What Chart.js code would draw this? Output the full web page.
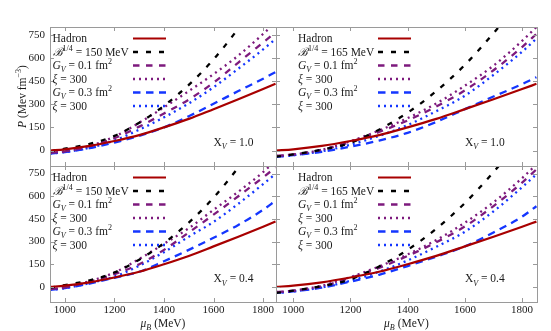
<!DOCTYPE html>
<html><head><meta charset="utf-8">
<script src="https://cdn.jsdelivr.net/npm/chart.js@4.4.1/dist/chart.umd.min.js"></script>
<style>
html,body{margin:0;padding:0;background:#fff;}
#wrap{position:relative;width:551px;height:331px;overflow:hidden;}
canvas{position:absolute;left:0;top:0;}
</style></head><body>
<div id="wrap">
<canvas id="c0" width="551" height="331"></canvas>
<canvas id="c1" width="551" height="331"></canvas>
<canvas id="c2" width="551" height="331"></canvas>
<canvas id="c3" width="551" height="331"></canvas>
</div>
<script>
// ---------------- data ----------------
const MU = [940, 1000, 1100, 1200, 1300, 1400, 1500, 1600, 1700, 1800, 1850];
const X_TICKS = [1000, 1200, 1400, 1600, 1800];
const Y_TICKS = [0, 150, 300, 450, 600, 750];

const HADRON = [0, 8, 30, 62, 100, 150, 205, 268, 332, 398, 432];
const BAG150 = [-5, 12, 43, 95, 180, 290, 425, 590, 790, 1010, 1120];
const BAG165 = [-40, -25, 5, 50, 135, 245, 385, 555, 760, 990, 1110];

// X_V = 1.0, B^1/4 = 150 MeV
const TL_GV01 = [-15, -5, 28, 80, 155, 240, 330, 440, 570, 700, 765];
const TL_XI01 = [-15, -5, 30, 90, 180, 280, 385, 495, 615, 755, 830];
const TL_GV03 = [-20, -10, 15, 52, 95, 150, 222, 303, 385, 465, 508];
const TL_XI03 = [-20, -10, 18, 65, 135, 215, 305, 410, 530, 655, 722];
// X_V = 1.0, B^1/4 = 165 MeV
const TR_GV01 = [-35, -25, 5, 55, 120, 195, 285, 390, 520, 670, 756];
const TR_XI01 = [-35, -25, 5, 60, 130, 210, 305, 420, 550, 710, 800];
const TR_GV03 = [-40, -30, -8, 25, 65, 115, 185, 268, 350, 430, 475];
const TR_XI03 = [-40, -30, -5, 38, 95, 165, 255, 355, 490, 640, 725];
// X_V = 0.4, B^1/4 = 150 MeV
const BL_GV01 = [-15, -3, 35, 85, 150, 245, 360, 478, 600, 725, 790];
const BL_XI01 = [-15, -3, 38, 95, 185, 285, 388, 510, 630, 760, 835];
const BL_GV03 = [-20, -8, 22, 60, 100, 170, 245, 325, 410, 510, 570];
const BL_XI03 = [-20, -8, 25, 68, 140, 230, 332, 430, 550, 680, 748];
// X_V = 0.4, B^1/4 = 165 MeV
const BR_GV01 = [-35, -25, 5, 60, 125, 205, 295, 400, 535, 690, 778];
const BR_XI01 = [-35, -25, 8, 65, 135, 215, 310, 425, 560, 720, 810];
const BR_GV03 = [-40, -30, -5, 35, 80, 138, 200, 268, 360, 465, 534];
const BR_XI03 = [-40, -30, -3, 40, 100, 175, 265, 365, 500, 660, 745];

const BAG_LABELS = ['150', '165'];
const XV_LABELS = ['1.0', '0.4'];

// ---------------- styles ----------------
const FONT = "'Liberation Serif', 'DejaVu Serif', serif";
const TXT = '#1a1a1a';
const STY = [
  {c: '#a80000', w: 2.2, d: []},
  {c: '#000000', w: 2.3, d: [5, 8]},
  {c: '#7d1a7d', w: 2.3, d: [6.5, 6.5]},
  {c: '#7d1a7d', w: 2.3, d: [2, 4]},
  {c: '#1436ff', w: 2.3, d: [7.5, 5.5]},
  {c: '#1436ff', w: 2.3, d: [2, 4]}
];

function legendSegs(i, bag) {
  switch (i) {
    case 0: return [{t: 'Hadron'}];
    case 1: return [{t: '\u212C', i: 1}, {t: '1/4', sup: 1}, {t: ' = ' + bag + ' MeV'}];
    case 2: return [{t: 'G', i: 1}, {t: 'V', i: 1, sub: 1}, {t: ' = 0.1 fm'}, {t: '2', sup: 1}];
    case 3: return [{t: '\u03BE', i: 1}, {t: ' = 300'}];
    case 4: return [{t: 'G', i: 1}, {t: 'V', i: 1, sub: 1}, {t: ' = 0.3 fm'}, {t: '2', sup: 1}];
    default: return [{t: '\u03BE', i: 1}, {t: ' = 300'}];
  }
}

function drawRich(ctx, segs, x, y, size, align) {
  const parts = segs.map(s => {
    const sz = (s.sub || s.sup) ? size * 0.7 : size;
    const f = (s.i ? 'italic ' : '') + sz + 'px ' + FONT;
    ctx.font = f;
    return {s, f, w: ctx.measureText(s.t).width, dy: s.sub ? size * 0.28 : (s.sup ? -size * 0.4 : 0)};
  });
  const total = parts.reduce((a, p) => a + p.w, 0);
  let cx = align === 'center' ? x - total / 2 : x;
  ctx.textAlign = 'left';
  ctx.textBaseline = 'alphabetic';
  parts.forEach(p => { ctx.font = p.f; ctx.fillText(p.s.t, cx, y + p.dy); cx += p.w; });
}

const decor = {
  id: 'decor',
  afterDraw(chart) {
    const o = chart.options.plugins.decor;
    const {ctx, chartArea: a} = chart;
    const x = chart.scales.x, y = chart.scales.y;
    ctx.save();
    // frame
    ctx.strokeStyle = '#9a9a9a';
    ctx.lineWidth = 1;
    ctx.setLineDash([]);
    ctx.strokeRect(a.left + 0.5, a.top + 0.5, a.right - a.left, a.bottom - a.top);
    // inward ticks
    ctx.beginPath();
    x.ticks.forEach(t => {
      const px = Math.round(x.getPixelForValue(t.value)) + 0.5;
      ctx.moveTo(px, a.top); ctx.lineTo(px, a.top + 4);
      ctx.moveTo(px, a.bottom); ctx.lineTo(px, a.bottom - 4);
    });
    y.ticks.forEach(t => {
      const py = Math.round(y.getPixelForValue(t.value)) + 0.5;
      ctx.moveTo(a.left, py); ctx.lineTo(a.left + 4, py);
      ctx.moveTo(a.right, py); ctx.lineTo(a.right - 4, py);
    });
    ctx.stroke();
    // legend
    const ds = chart.data.datasets;
    ctx.fillStyle = TXT;
    ds.forEach((d, i) => {
      const ry = a.top + 11.5 + i * 13.5;
      drawRich(ctx, legendSegs(i, o.bag), a.left + o.legText, ry + 3.5, 11.5, 'left');
      ctx.beginPath();
      ctx.strokeStyle = d.borderColor;
      ctx.lineWidth = d.borderWidth;
      ctx.setLineDash(d.borderDash || []);
      ctx.moveTo(a.left + o.legLine[0], ry);
      ctx.lineTo(a.left + o.legLine[1], ry);
      ctx.stroke();
    });
    ctx.setLineDash([]);
    // X_V annotation
    ctx.fillStyle = TXT;
    drawRich(ctx, [{t: 'X'}, {t: 'V', i: 1, sub: 1}, {t: ' = ' + o.xv}],
      x.getPixelForValue(1600), y.getPixelForValue(56) + 4, 11.5, 'left');
    // axis titles
    if (o.yTitle) {
      ctx.save();
      ctx.translate(22, (a.top + a.bottom) / 2);
      ctx.rotate(-Math.PI / 2);
      drawRich(ctx, [{t: 'P', i: 1}, {t: ' (Mev fm'}, {t: '\u22123', sup: 1}, {t: ')'}], 0, 4, 11.5, 'center');
      ctx.restore();
    }
    if (o.xTitle) {
      drawRich(ctx, [{t: '\u03BC', i: 1}, {t: 'B', i: 1, sub: 1}, {t: ' (MeV)'}],
        (a.left + a.right) / 2, 327, 11.5, 'center');
    }
    ctx.restore();
  }
};

const PANELS = [
  {id: 'c0', area: {left: 50, top: 27, right: 276, bottom: 166}, yLab: true, xLab: false,
   bag: BAG_LABELS[0], xv: XV_LABELS[0], series: [HADRON, BAG150, TL_GV01, TL_XI01, TL_GV03, TL_XI03],
   legText: 2.5, legLine: [83, 116]},
  {id: 'c1', area: {left: 276, top: 27, right: 537, bottom: 166}, yLab: false, xLab: false,
   bag: BAG_LABELS[1], xv: XV_LABELS[0], series: [HADRON, BAG165, TR_GV01, TR_XI01, TR_GV03, TR_XI03],
   legText: 22, legLine: [102, 135]},
  {id: 'c2', area: {left: 50, top: 166, right: 276, bottom: 302}, yLab: true, xLab: true,
   bag: BAG_LABELS[0], xv: XV_LABELS[1], series: [HADRON, BAG150, BL_GV01, BL_XI01, BL_GV03, BL_XI03],
   legText: 2.5, legLine: [83, 116]},
  {id: 'c3', area: {left: 276, top: 166, right: 537, bottom: 302}, yLab: false, xLab: true,
   bag: BAG_LABELS[1], xv: XV_LABELS[1], series: [HADRON, BAG165, BR_GV01, BR_XI01, BR_GV03, BR_XI03],
   legText: 22, legLine: [102, 135]}
];

const W = 551, H = 331;
PANELS.forEach((p, pi) => {
  const yW = p.yLab ? 50 : 0;
  const xH = p.xLab ? 29 : 0;
  const a = p.area;
  new Chart(document.getElementById(p.id), {
    type: 'line',
    data: {
      datasets: p.series.map((s, i) => ({
        data: MU.map((m, k) => ({x: m, y: s[k]})),
        borderColor: STY[i].c,
        borderWidth: STY[i].w,
        borderDash: STY[i].d,
        borderCapStyle: 'butt',
        pointRadius: 0,
        fill: false,
        tension: 0.4,
        cubicInterpolationMode: 'monotone',
        clip: 0
      }))
    },
    options: {
      responsive: false,
      animation: false,
      events: [],
      layout: {padding: {left: a.left - yW, top: a.top, right: W - a.right, bottom: H - a.bottom - xH}},
      plugins: {
        legend: {display: false},
        tooltip: {enabled: false},
        decor: {bag: p.bag, xv: p.xv, legText: p.legText, legLine: p.legLine,
                yTitle: pi === 0, xTitle: p.xLab}
      },
      scales: {
        x: {
          type: 'linear', min: 940, max: 1852,
          afterBuildTicks: s => { s.ticks = X_TICKS.map(v => ({value: v})); },
          afterFit: s => { s.height = xH; },
          grid: {display: false, drawTicks: false, tickLength: 0}, border: {display: false},
          ticks: {display: p.xLab, padding: 2, color: TXT, font: {family: FONT, size: 11},
                  autoSkip: false, maxRotation: 0, callback: v => String(v)}
        },
        y: {
          type: 'linear', min: -100, max: 800,
          afterBuildTicks: s => { s.ticks = Y_TICKS.map(v => ({value: v})); },
          afterFit: s => { s.width = yW; },
          grid: {display: false, drawTicks: false, tickLength: 0}, border: {display: false},
          ticks: {display: p.yLab, padding: 5, color: TXT, font: {family: FONT, size: 11},
                  autoSkip: false, callback: v => String(v)}
        }
      }
    },
    plugins: [decor]
  });
});
</script>
</body></html>
